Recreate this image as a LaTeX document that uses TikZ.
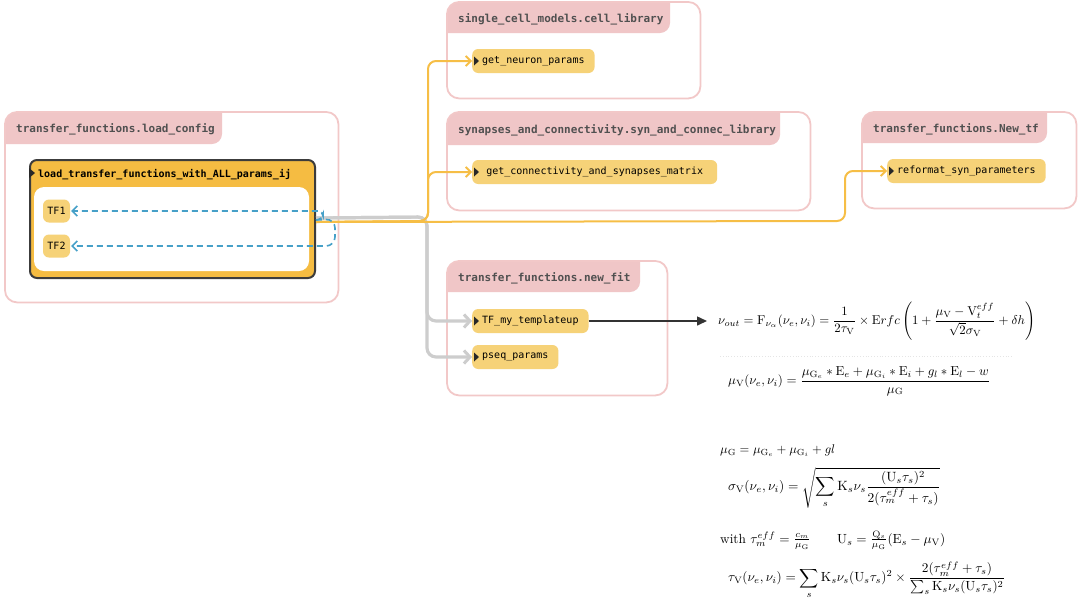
\documentclass[tikz,border=0pt]{standalone}
\usepackage{amsmath}
\usepackage{graphicx}
\usepackage{fontspec}
\setmonofont{DejaVu Sans Mono}
\usetikzlibrary{arrows.meta,calc}
\definecolor{boxpink}{RGB}{242,200,200}
\definecolor{hdrfill}{RGB}{240,198,199}
\definecolor{hdrgray}{RGB}{80,80,80}
\definecolor{nodeyel}{RGB}{246,210,120}
\definecolor{ltffill}{RGB}{245,188,66}
\definecolor{ltfline}{RGB}{60,60,60}
\definecolor{yline}{RGB}{246,190,70}
\definecolor{gline}{RGB}{205,205,205}
\definecolor{bline}{RGB}{70,160,200}
\definecolor{mkcol}{RGB}{40,40,40}
\tikzset{
  boxbg/.style={fill=white, draw=none, inner sep=0, anchor=north west},
  boxborder/.style={draw=boxpink, line width=1.8, rounded corners=12},
  hdrtext/.style={font=\ttfamily\bfseries\fontsize{11}{13}\selectfont, text=hdrgray, inner sep=0, anchor=base west},
  fnode/.style={fill=nodeyel, rounded corners=6, minimum height=24, inner xsep=10, inner ysep=0, font=\ttfamily\fontsize{10}{12}\selectfont, text=black},
  yconn/.style={draw=yline, line width=2, rounded corners=8, -{Straight Barb[length=5,width=10,line width=1.8]}},
  gconn/.style={draw=gline, line width=3.2, rounded corners=9, -{Straight Barb[length=6,width=13,line width=3]}},
  bconn/.style={draw=bline, line width=1.6, dash pattern=on 6pt off 4pt, -{Straight Barb[length=5,width=10,line width=1.6]}},
  eqnode/.style={anchor=west, inner sep=0, text=black},
}
\newcommand\modbox[9]{%
  \node[boxbg, minimum width=#4, minimum height=#5] (#1) at (#2,#3) {};
  \begin{scope}
    \clip[rounded corners=12] (#1.north west) rectangle (#1.south east);
    \fill[hdrfill, rounded corners=10] ($(#1.north west)+(-20,-20)$) rectangle (#6,#7);
  \end{scope}
  \draw[boxborder] (#1.north west) rectangle (#1.south east);
  \node[hdrtext] (#1-h) at ({#2+11},{(#3+#7)/2+4.5}) {#8#9};
}
\newcommand\mk[1]{\fill[mkcol] ($(#1.west)+(2,-4.5)$) -- ++(0,9) -- ++(5,-4.5) -- cycle;}
\begin{document}
\begin{tikzpicture}[x=1pt,y=-1pt]
\useasboundingbox (0,0) rectangle (1083,603);
% module boxes
\modbox{scm}{447}{2}{253}{96}{670}{33}{single\_cell\_models.cell\_library}{}
\modbox{syn}{447}{112}{363}{98}{780}{145}{synapses\_and\_connectivity.syn\_and\_connec\_library}{}
\modbox{ntf}{862}{112}{214}{96}{1047}{143}{transfer\_functions.New\_tf}{}
\modbox{nfit}{447}{261}{220}{134}{640}{292}{transfer\_functions.new\_fit}{}
\modbox{lc}{5}{112}{333}{190}{222}{144}{transfer\_functions.load\_config}{}
% inner function box
\node[fill=ltffill, draw=ltfline, line width=2, rounded corners=7, minimum width=285, minimum height=118, anchor=north west, inner sep=0] (ltf) at (29,159) {};
\fill[white, rounded corners=10] (34,187) rectangle (309,271);
\node[font=\ttfamily\bfseries\fontsize{10}{12}\selectfont, text=black, inner sep=0, anchor=base west] (ltf-h) at (38,177) {load\_transfer\_functions\_with\_ALL\_params\_ij};
\fill[mkcol] (29,168) -- (29,178) -- (35,173) -- cycle;
\node[fnode, minimum width=27, minimum height=23, inner xsep=0] (tf1) at (56.5,211) {TF1};
\node[fnode, minimum width=27, minimum height=23, inner xsep=0] (tf2) at (56.5,246) {TF2};
% function nodes
\node[fnode, anchor=west] (gnp) at (472,61) {get\_neuron\_params};
\node[fnode, anchor=west, minimum width=245] (gcs) at (472,172) {get\_connectivity\_and\_synapses\_matrix};
\node[fnode, anchor=west] (rsp) at (887,171) {reformat\_syn\_parameters};
\node[fnode, anchor=west] (tft) at (472,321) {TF\_my\_templateup};
\node[fnode, anchor=west] (pqp) at (472,357) {pseq\_params};
\foreach \n in {gnp,gcs,rsp,tft,pqp} {\mk{\n}}
% connectors
\draw[gconn] ($(ltf.east)+(0,-1)$) -- (427,217) -- (427,321) -- (tft.west);
\draw[gconn] ($(ltf.east)+(0,-1)$) -- (427,217) -- (427,357) -- (pqp.west);
\draw[yconn] ($(ltf.east)+(0,3)$) -- (428,221) -- (428,61) -- (gnp.west);
\draw[yconn] ($(ltf.east)+(0,3)$) -- (428,221) -- (428,172) -- (gcs.west);
\draw[yconn] ($(ltf.east)+(0,3)$) -- (845,221) -- (845,171) -- (rsp.west);
\draw[bconn, rounded corners=5] ($(ltf.east)+(0,1)$) -- (323,219) -- (323,211) -- ($(tf1.east)+(1,0)$);
\draw[bconn, rounded corners=9] ($(ltf.east)+(0,1)$) -- (335,219) -- (335,246) -- ($(tf2.east)+(1,0)$);
% equations
\node[eqnode] (eq1) at (718,321) {\resizebox{317pt}{!}{$\displaystyle \nu_{out}=\mathrm{F}_{\nu_\alpha}(\nu_e,\nu_i)=\frac{1}{2\tau_{\mathrm{V}}}\times \mathrm{E}rfc\left(1+\frac{\mu_{\mathrm{V}}-\mathrm{V}_t^{eff}}{\sqrt{2}\sigma_{\mathrm{V}}}+\delta h\right)$}};
\coordinate (eqin) at (707,321);
\draw[black!80, line width=1.5, -{Triangle[length=10,width=9]}] (tft.east) -- (eqin);
\draw[black!10, line width=0.8, dotted] (720,356) -- (1012,356);
\node[eqnode] (eq2) at (728,381) {\resizebox{262pt}{!}{$\displaystyle \mu_{\mathrm{V}}(\nu_e,\nu_i)=\frac{\mu_{\mathrm{G}_e}*\mathrm{E}_e+\mu_{\mathrm{G}_i}*\mathrm{E}_i+g_l*\mathrm{E}_l-w}{\mu_{\mathrm{G}}}$}};
\node[eqnode] (eq3) at (720,451) {\resizebox{115pt}{!}{$\mu_{\mathrm{G}}=\mu_{\mathrm{G}_e}+\mu_{\mathrm{G}_i}+gl$}};
\node[eqnode] (eq4) at (728,488) {\resizebox{212pt}{!}{$\displaystyle \sigma_{\mathrm{V}}(\nu_e,\nu_i)=\sqrt{\sum_s \mathrm{K}_s\nu_s\frac{(\mathrm{U}_s\tau_s)^2}{2(\tau_m^{eff}+\tau_s)}}$}};
\node[eqnode] (eq5) at (720,540) {\resizebox{225pt}{!}{with $\tau_m^{eff}=\frac{c_m}{\mu_{\mathrm{G}}}$\qquad $\mathrm{U}_s=\frac{\mathrm{Q}_s}{\mu_{\mathrm{G}}}(\mathrm{E}_s-\mu_{\mathrm{V}})$}};
\node[eqnode] (eq6) at (728,580) {\resizebox{277pt}{!}{$\displaystyle \tau_{\mathrm{V}}(\nu_e,\nu_i)=\sum_s \mathrm{K}_s\nu_s(\mathrm{U}_s\tau_s)^2\times\frac{2(\tau_m^{eff}+\tau_s)}{\sum_s \mathrm{K}_s\nu_s(\mathrm{U}_s\tau_s)^2}$}};
\end{tikzpicture}
\end{document}
